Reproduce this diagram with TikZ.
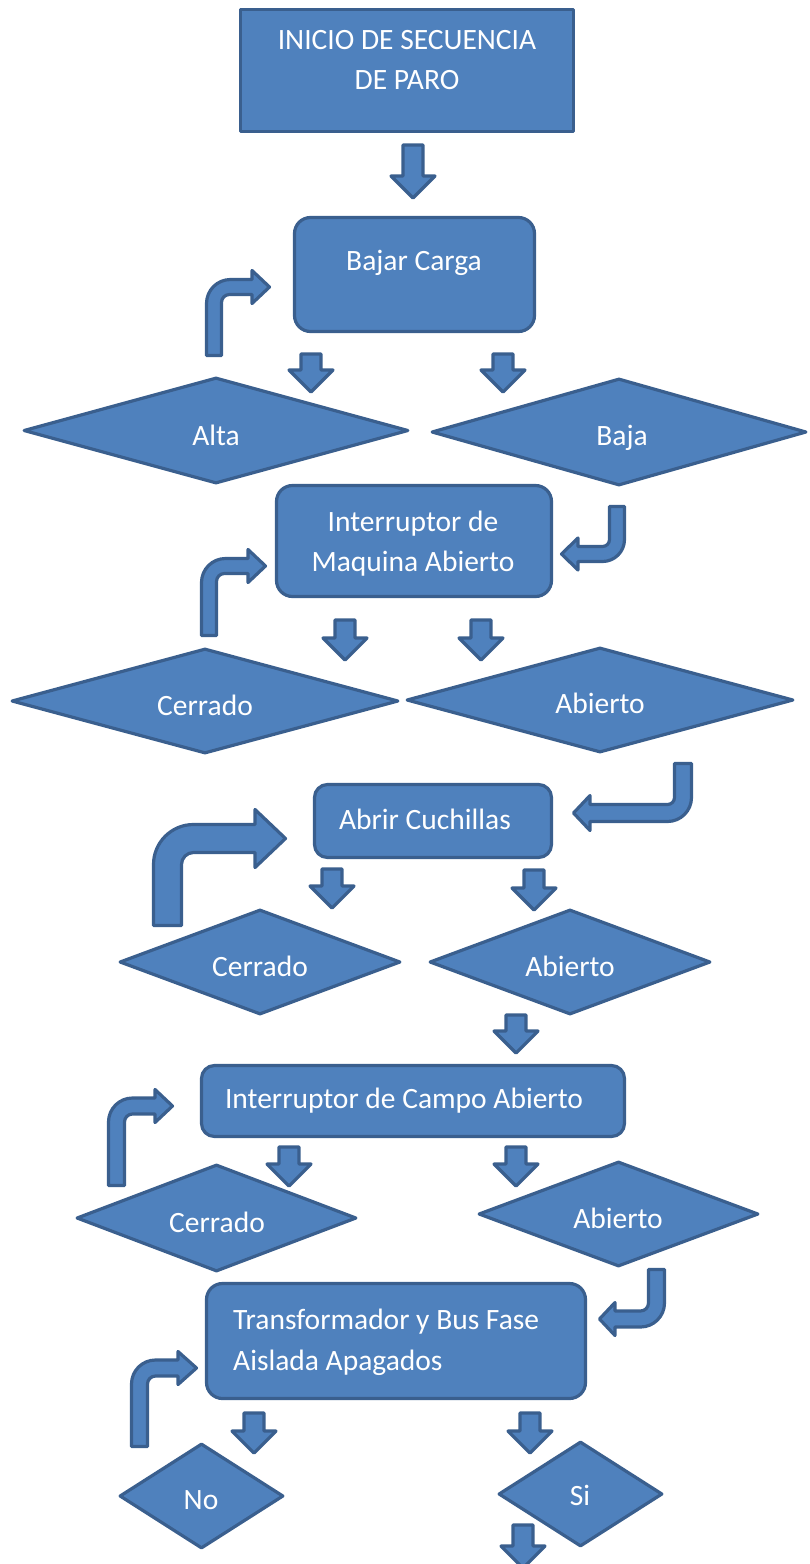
\documentclass[tikz,border=0pt]{standalone}
\usepackage{fontspec}
\setmainfont{Carlito}
\usetikzlibrary{shapes.geometric}

\definecolor{fillblue}{HTML}{4F81BD}
\definecolor{edgeblue}{HTML}{3A5F8E}

\tikzset{
  shapestyle/.style={fill=fillblue, draw=edgeblue, line width=3.2pt, line join=round},
  boxnode/.style={shapestyle, rectangle, inner sep=0pt, minimum width=#1},
  rbox/.style={shapestyle, rectangle, rounded corners=16pt, inner sep=0pt},
  decision/.style={shapestyle, diamond, inner sep=0pt},
  lbl/.style={text=white, font=\fontsize{29.5}{34}\selectfont, anchor=base, inner sep=0pt},
  blockarrow/.style={shapestyle}
}

% downward block arrow: centre x, top y, length
\newcommand{\dnarrow}[3]{%
  \draw[blockarrow] ({#1-10},#2) -- ({#1+10},#2) -- ({#1+10},{#2+#3-22})
    -- ({#1+22},{#2+#3-22}) -- (#1,{#2+#3}) -- ({#1-22},{#2+#3-22})
    -- ({#1-10},{#2+#3-22}) -- cycle;}

% bent arrow, shaft rising then turning right
% xl, w, bottom, band centre, head base, tip, head half height, outer r, inner r
\newcommand{\bentUR}[9]{%
  \draw[blockarrow] (#1,#3) [rounded corners=#8pt] -- (#1,{#4-#2/2}) [sharp corners]
    -- (#5,{#4-#2/2}) -- (#5,{#4-#7}) -- (#6,#4) -- (#5,{#4+#7}) -- (#5,{#4+#2/2})
    [rounded corners=#9pt] -- ({#1+#2},{#4+#2/2}) [sharp corners] -- ({#1+#2},#3) -- cycle;}

% bent arrow, shaft falling then turning left
% xl, w, top, band centre, head base, tip, head half height, outer r, inner r
\newcommand{\bentDL}[9]{%
  \draw[blockarrow] (#1,#3) -- ({#1+#2},#3) [rounded corners=#8pt] -- ({#1+#2},{#4+#2/2}) [sharp corners]
    -- (#5,{#4+#2/2}) -- (#5,{#4+#7}) -- (#6,#4) -- (#5,{#4-#7}) -- (#5,{#4-#2/2})
    [rounded corners=#9pt] -- (#1,{#4-#2/2}) [sharp corners] -- cycle;}

\begin{document}
\begin{tikzpicture}[x=1pt,y=-1pt]
\useasboundingbox (0,0) rectangle (810,1564);
\clip (0,0) rectangle (810,1564);

% process boxes
\node[boxnode=333pt, minimum height=122pt] (start) at (407,70.5) {};
\node[rbox, minimum width=240pt, minimum height=114pt] (carga) at (414.5,274.5) {};
\node[rbox, minimum width=275pt, minimum height=111pt] (intmaq) at (414,541) {};
\node[rbox, rounded corners=13pt, minimum width=237pt, minimum height=73pt] (cuch) at (433,821) {};
\node[rbox, rounded corners=13pt, minimum width=423pt, minimum height=71pt] (intcampo) at (413,1101) {};
\node[rbox, minimum width=379pt, minimum height=115pt] (trafo) at (396,1341) {};

% decisions
\node[decision, minimum width=385pt, minimum height=106pt] (alta) at (216,430.5) {};
\node[decision, minimum width=375pt, minimum height=107pt] (baja) at (619,432) {};
\node[decision, minimum width=387pt, minimum height=105pt] (cerr1) at (205,701) {};
\node[decision, minimum width=387pt, minimum height=105pt] (abie1) at (600,700) {};
\node[decision, minimum width=281pt, minimum height=105pt] (cerr2) at (260,962) {};
\node[decision, minimum width=281pt, minimum height=105pt] (abie2) at (570,962) {};
\node[decision, minimum width=280pt, minimum height=107pt] (cerr3) at (216.5,1218) {};
\node[decision, minimum width=280pt, minimum height=105pt] (abie3) at (618.5,1214) {};
\node[decision, minimum width=164pt, minimum height=105pt] (no) at (201.5,1496) {};
\node[decision, minimum width=164pt, minimum height=105pt] (si) at (580.5,1494) {};

% labels
\node[lbl] (t1a) at (407,49) {INICIO DE SECUENCIA};
\node[lbl] (t1b) at (407,89) {DE PARO};
\node[lbl] (t2) at (414,270) {Bajar Carga};
\node[lbl] (t3a) at (413,531) {Interruptor de};
\node[lbl] (t3b) at (413,571) {Maquina Abierto};
\node[lbl] (t4) at (425,829) {Abrir Cuchillas};
\node[lbl] (t5) at (404,1108) {Interruptor de Campo Abierto};
\node[lbl, anchor=base west] (t6a) at (233,1329) {Transformador y Bus Fase};
\node[lbl, anchor=base west] (t6b) at (233,1370) {Aislada Apagados};
\node[lbl] (ta) at (216,445) {Alta};
\node[lbl] (tb) at (622,445) {Baja};
\node[lbl] (tc1) at (205,715) {Cerrado};
\node[lbl] (ta1) at (600,713) {Abierto};
\node[lbl] (tc2) at (260,976) {Cerrado};
\node[lbl] (ta2) at (570,976) {Abierto};
\node[lbl] (tc3) at (217,1232) {Cerrado};
\node[lbl] (ta3) at (618,1228) {Abierto};
\node[lbl] (tno) at (201,1509) {No};
\node[lbl] (tsi) at (580,1505) {Si};

% straight block arrows
\dnarrow{413}{145}{53}
\dnarrow{311}{354}{38}
\dnarrow{503}{354}{38}
\dnarrow{345}{620}{40}
\dnarrow{481}{620}{40}
\dnarrow{332}{869}{39}
\dnarrow{534}{870}{40}
\dnarrow{516}{1015}{38}
\dnarrow{289}{1147}{39}
\dnarrow{516}{1147}{39}
\dnarrow{254}{1413}{40}
\dnarrow{530}{1413}{40}
\dnarrow{523}{1525}{43}

% bent block arrows returning to a box
\bentUR{206.5}{15}{355.5}{287}{252}{269.5}{16.5}{24}{8}
\bentUR{201.5}{15}{635.5}{566}{248}{265.5}{16.5}{24}{8}
\bentUR{153.5}{28}{925.5}{838.5}{255}{285.5}{29}{40}{12}
\bentUR{108.5}{16}{1185.5}{1106}{155}{172.5}{16.5}{24}{8}
\bentUR{131.5}{16}{1446.5}{1368}{178}{196.5}{16.5}{24}{8}

% bent block arrows coming from a decision
\bentDL{609.5}{15}{506.5}{554}{578}{561.5}{16}{22}{7}
\bentDL{674.5}{17}{763.5}{813}{590}{573.5}{17.5}{24}{7}
\bentDL{648.5}{16}{1269.5}{1319}{615}{599.5}{16.5}{24}{8}
\end{tikzpicture}
\end{document}
